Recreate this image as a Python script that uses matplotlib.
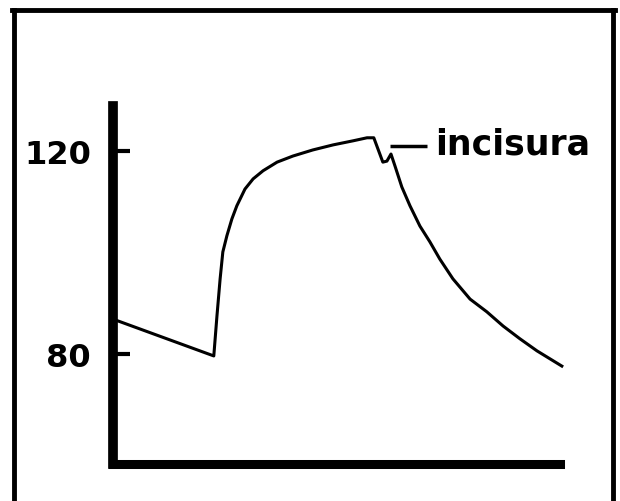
import matplotlib.pyplot as plt
from matplotlib.lines import Line2D

# Curva de presión arterial (tiempo en unidades arbitrarias, presión en mmHg)
tiempo = [0.11, 2.23, 2.30, 2.37, 2.43, 2.52, 2.63, 2.74, 2.92, 3.10, 3.32, 3.63, 3.98,
          4.42, 4.87, 5.31, 5.62, 5.77, 5.97, 6.06, 6.15, 6.24, 6.39, 6.57, 6.79, 7.01,
          7.23, 7.52, 7.90, 8.27, 8.63, 9.00, 9.38, 9.93]
presion = [86.5, 79.6, 87.5, 94.8, 100.1, 103.3, 106.6, 109.2, 112.5, 114.5, 116.1, 117.8, 119.0,
           120.2, 121.2, 122.0, 122.6, 122.6, 117.8, 118.0, 119.4, 117.0, 112.9, 109.2, 105.2, 102.1,
           98.7, 94.8, 90.8, 88.3, 85.5, 83.0, 80.6, 77.6]
ticks_y = [80, 120]

# etiqueta de la incisura
etiqueta = "incisura"
linea_x = [6.13, 6.95]
linea_y = [121.0, 121.0]
texto_x, texto_y = 7.12, 119.6

fig = plt.figure(figsize=(6.2, 5.02), dpi=100)
ax = fig.add_axes([113 / 620, 37 / 502, (565 - 113) / 620, (400 - 37) / 502])

ax.plot(tiempo, presion, color="black", linewidth=2.2)
ax.plot(linea_x, linea_y, color="black", linewidth=2.5, solid_capstyle="butt")
ax.text(texto_x, texto_y, etiqueta, fontsize=25, fontweight="heavy", va="baseline", ha="left")

ax.set_xlim(0, 10)
ax.set_ylim(58.3, 129.85)

for lado in ["top", "right"]:
    ax.spines[lado].set_visible(False)
ax.spines["left"].set_linewidth(7)
ax.spines["bottom"].set_linewidth(6.5)
ax.spines["left"].set_bounds(58.3, 128.9)
ax.spines["bottom"].set_bounds(0, 9.9)

ax.set_xticks([])
ax.set_yticks(ticks_y)
ax.set_yticklabels([str(v) for v in ticks_y], fontsize=23, fontweight="heavy")
ax.tick_params(axis="y", direction="in", length=12, width=3, pad=16)

# marco exterior
fig.add_artist(Line2D([14 / 620, 14 / 620], [-0.05, 1 - 10.5 / 502], color="black", linewidth=3.5, transform=fig.transFigure))
fig.add_artist(Line2D([12 / 620, 615 / 620], [1 - 10.5 / 502, 1 - 10.5 / 502], color="black", linewidth=3.5, transform=fig.transFigure))
fig.add_artist(Line2D([613 / 620, 613 / 620], [-0.05, 1 - 10.5 / 502], color="black", linewidth=3.5, transform=fig.transFigure))

fig.savefig("out.png", dpi=100)
